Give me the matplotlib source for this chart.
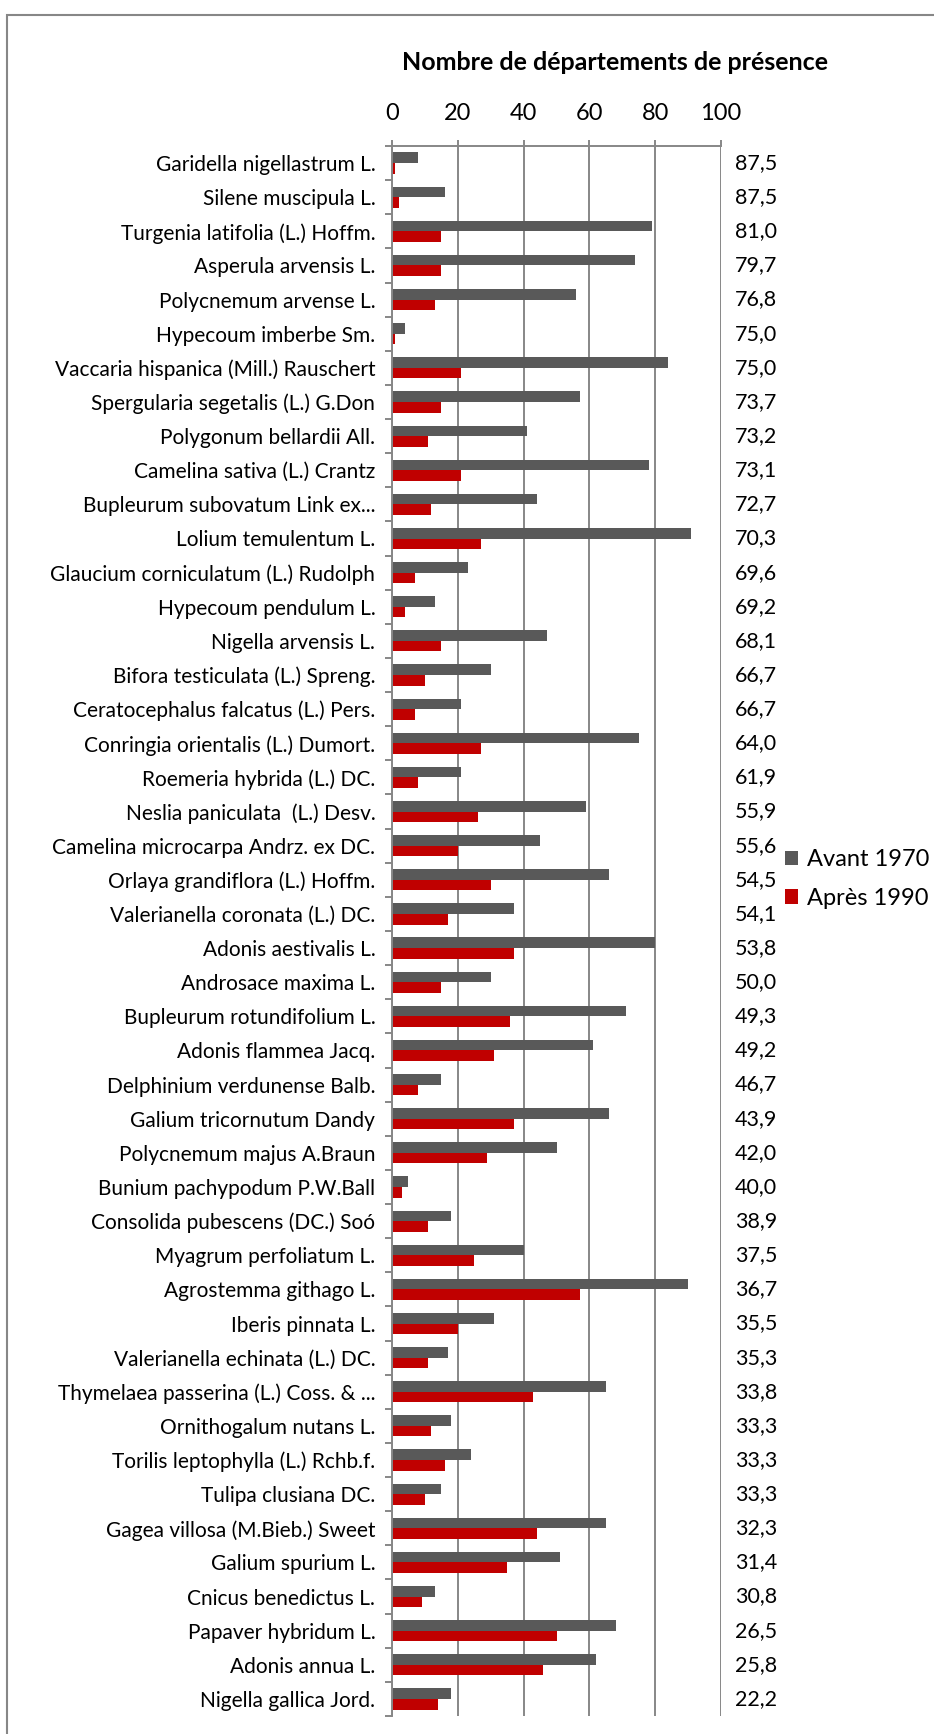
import numpy as np
import matplotlib.pyplot as plt
import matplotlib.patches as mpatches

#------------------------------------------------------------------------------
# data
#------------------------------------------------------------------------------

especes = ['Garidella nigellastrum L.', 'Silene muscipula L.',
           'Turgenia latifolia (L.) Hoffm.', 'Asperula arvensis L.',
           'Polycnemum arvense L.', 'Hypecoum imberbe Sm.',
           'Vaccaria hispanica (Mill.) Rauschert', 'Spergularia segetalis (L.) G.Don',
           'Polygonum bellardii All.', 'Camelina sativa (L.) Crantz',
           'Bupleurum subovatum Link ex...', 'Lolium temulentum L.',
           'Glaucium corniculatum (L.) Rudolph', 'Hypecoum pendulum L.',
           'Nigella arvensis L.', 'Bifora testiculata (L.) Spreng.',
           'Ceratocephalus falcatus (L.) Pers.', 'Conringia orientalis (L.) Dumort.',
           'Roemeria hybrida (L.) DC.', 'Neslia paniculata  (L.) Desv.',
           'Camelina microcarpa Andrz. ex DC.', 'Orlaya grandiflora (L.) Hoffm.',
           'Valerianella coronata (L.) DC.', 'Adonis aestivalis L.',
           'Androsace maxima L.', 'Bupleurum rotundifolium L.',
           'Adonis flammea Jacq.', 'Delphinium verdunense Balb.',
           'Galium tricornutum Dandy', 'Polycnemum majus A.Braun',
           'Bunium pachypodum P.W.Ball', 'Consolida pubescens (DC.) Soó',
           'Myagrum perfoliatum L.', 'Agrostemma githago L.',
           'Iberis pinnata L.', 'Valerianella echinata (L.) DC.',
           'Thymelaea passerina (L.) Coss. & ...', 'Ornithogalum nutans L.',
           'Torilis leptophylla (L.) Rchb.f.', 'Tulipa clusiana DC.',
           'Gagea villosa (M.Bieb.) Sweet', 'Galium spurium L.',
           'Cnicus benedictus L.', 'Papaver hybridum L.',
           'Adonis annua L.', 'Nigella gallica Jord.']

avant_1970 = [8, 16, 79, 74, 56, 4, 84, 57, 41, 78, 44, 91, 23, 13, 47, 30,
              21, 75, 21, 59, 45, 66, 37, 80, 30, 71, 61, 15, 66, 50, 5, 18,
              40, 90, 31, 17, 65, 18, 24, 15, 65, 51, 13, 68, 62, 18]

apres_1990 = [1, 2, 15, 15, 13, 1, 21, 15, 11, 21, 12, 27, 7, 4, 15, 10,
              7, 27, 8, 26, 20, 30, 17, 37, 15, 36, 31, 8, 37, 29, 3, 11,
              25, 57, 20, 11, 43, 12, 16, 10, 44, 35, 9, 50, 46, 14]

regression = ['87,5', '87,5', '81,0', '79,7', '76,8', '75,0', '75,0', '73,7',
              '73,2', '73,1', '72,7', '70,3', '69,6', '69,2', '68,1', '66,7',
              '66,7', '64,0', '61,9', '55,9', '55,6', '54,5', '54,1', '53,8',
              '50,0', '49,3', '49,2', '46,7', '43,9', '42,0', '40,0', '38,9',
              '37,5', '36,7', '35,5', '35,3', '33,8', '33,3', '33,3', '33,3',
              '32,3', '31,4', '30,8', '26,5', '25,8', '22,2']

#------------------------------------------------------------------------------
# settings
#------------------------------------------------------------------------------

plt.rcParams['font.family'] = ['Lato', 'DejaVu Sans']

c_avant = '#595959'
c_apres = '#C00000'
c_grid = '#878787'
h = 0.31

#------------------------------------------------------------------------------
# plotting
#------------------------------------------------------------------------------

f = plt.figure(figsize=(9.34, 17.34), dpi=100)
ax = f.add_axes([392/934, 1 - 1716/1734, 329/934, 1570/1734])

y = np.arange(len(especes))
ax.barh(y - h/2, avant_1970, height=h, color=c_avant, label='Avant 1970', zorder=2)
ax.barh(y + h/2, apres_1990, height=h, color=c_apres, label='Après 1990', zorder=2)

ax.set_xlim(0, 100)
ax.set_ylim(len(especes) - 0.5, -0.5)
ax.set_xticks(np.arange(0, 101, 20))
ax.xaxis.tick_top()
ax.tick_params(axis='x', length=4, width=1.4, color=c_grid, labelsize=17, pad=12)

ax.set_yticks(y)
ax.set_yticklabels(especes)
ax.set_yticks(np.arange(len(especes) + 1) - 0.5, minor=True)
ax.tick_params(axis='y', which='major', length=0, labelsize=15, pad=12)
ax.tick_params(axis='y', which='minor', length=5, width=1.4, color=c_grid)

ax.xaxis.grid(color=c_grid, linewidth=1.4)
ax.set_axisbelow(True)
for s in ['right', 'bottom']:
    ax.spines[s].set_visible(False)
for s in ['left', 'top']:
    ax.spines[s].set_color(c_grid)
    ax.spines[s].set_linewidth(1.4)

# values on the right of the plot
for i, v in enumerate(regression):
    ax.text((735 - 392) / 329, i, v, transform=ax.get_yaxis_transform(),
            fontsize=15.5, va='center', ha='left')

# title
f.text(615/934, 1 - 62/1734, 'Nombre de départements de présence',
       fontsize=18, fontweight='bold', ha='center', va='center')

# legend
handles, labels = ax.get_legend_handles_labels()
f.legend(handles, labels, loc='center left', bbox_to_anchor=(785/934, 1 - 879/1734),
         frameon=False, fontsize=17, handlelength=0.55, handleheight=0.55,
         handletextpad=0.4, labelspacing=0.75, borderpad=0, borderaxespad=0)

# chart border
f.add_artist(mpatches.Rectangle((7/934, -0.1), 2, 1.1 - 15/1734, transform=f.transFigure,
                                fill=False, edgecolor=c_grid, linewidth=1.5))

f.savefig('out.png', dpi=100)
